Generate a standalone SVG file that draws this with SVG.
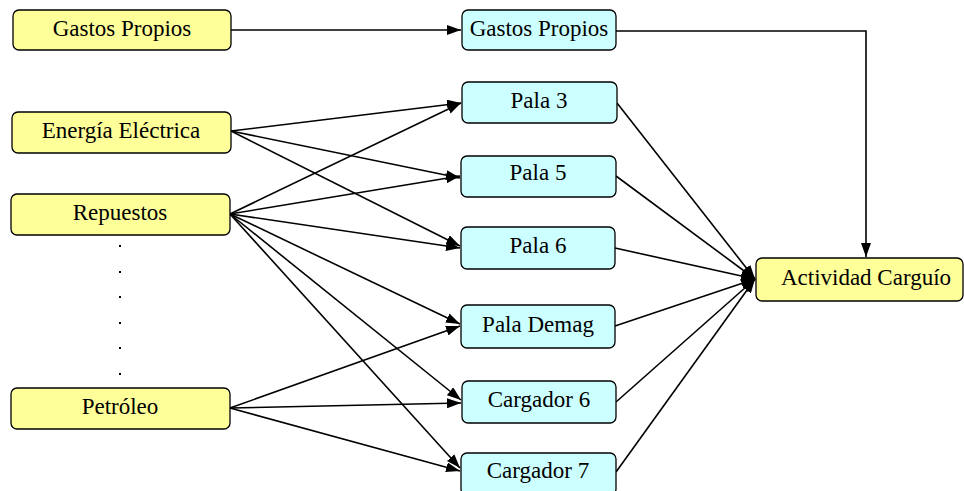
<svg xmlns="http://www.w3.org/2000/svg" width="964" height="491" viewBox="0 0 964 491">
<style>
.y{fill:#FFFF99;stroke:#000;stroke-width:1.3}
.c{fill:#CCFFFF;stroke:#000;stroke-width:1.3}
text{font-family:"Liberation Serif","Times New Roman",serif;font-size:23px;text-anchor:middle;fill:#000}
.e{fill:none;stroke:#000;stroke-width:1.6}
</style>
<defs>
<marker id="a" markerUnits="userSpaceOnUse" markerWidth="14" markerHeight="10" refX="14" refY="5" orient="auto">
<path d="M0,0 L14,5 L0,10 z" fill="#000"/>
</marker>
</defs>
<rect width="964" height="491" fill="#fff"/>
<g id="edges">
<path class="e" d="M231,30 L461,30" marker-end="url(#a)"/>
<path class="e" d="M616,31 L866,31 L866,257" marker-end="url(#a)"/>
<path class="e" d="M231,131 L461,103" marker-end="url(#a)"/>
<path class="e" d="M231,131 L460,178" marker-end="url(#a)"/>
<path class="e" d="M231,131 L460,246" marker-end="url(#a)"/>
<path class="e" d="M230,214 L461,103" marker-end="url(#a)"/>
<path class="e" d="M230,214 L460,176" marker-end="url(#a)"/>
<path class="e" d="M230,214 L460,248" marker-end="url(#a)"/>
<path class="e" d="M230,214 L460,324" marker-end="url(#a)"/>
<path class="e" d="M230,214 L461,400" marker-end="url(#a)"/>
<path class="e" d="M230,214 L460,468" marker-end="url(#a)"/>
<path class="e" d="M230,408 L460,326" marker-end="url(#a)"/>
<path class="e" d="M230,408 L461,403" marker-end="url(#a)"/>
<path class="e" d="M230,408 L460,471" marker-end="url(#a)"/>
<path class="e" d="M617,103 L755,279" marker-end="url(#a)"/>
<path class="e" d="M616,176 L755,279" marker-end="url(#a)"/>
<path class="e" d="M615,248 L755,279" marker-end="url(#a)"/>
<path class="e" d="M615,326 L755,279" marker-end="url(#a)"/>
<path class="e" d="M616,402 L755,279" marker-end="url(#a)"/>
<path class="e" d="M616,472 L755,279" marker-end="url(#a)"/>
</g>
<g id="n-gastos-src"><rect class="y" x="13" y="10" width="218" height="40" rx="6"/><text x="122" y="36">Gastos Propios</text></g>
<g id="n-energia"><rect class="y" x="12" y="112" width="219" height="41" rx="6"/><text x="121" y="138">Energía Eléctrica</text></g>
<g id="n-repuestos"><rect class="y" x="11" y="194" width="219" height="41" rx="6"/><text x="120" y="220">Repuestos</text></g>
<g id="dots" fill="#000"><rect x="119" y="245" width="2" height="2"/><rect x="119" y="271" width="2" height="2"/><rect x="119" y="296" width="2" height="2"/><rect x="119" y="322" width="2" height="2"/><rect x="119" y="347" width="2" height="2"/><rect x="119" y="373" width="2" height="2"/></g>
<g id="n-petroleo"><rect class="y" x="11" y="388" width="219" height="41" rx="6"/><text x="120" y="414">Petróleo</text></g>
<g id="n-gastos"><rect class="c" x="462" y="10" width="154" height="40" rx="6"/><text x="539" y="36">Gastos Propios</text></g>
<g id="n-pala3"><rect class="c" x="462" y="82" width="155" height="41" rx="6"/><text x="539" y="108">Pala 3</text></g>
<g id="n-pala5"><rect class="c" x="461" y="156" width="155" height="41" rx="6"/><text x="538" y="180">Pala 5</text></g>
<g id="n-pala6"><rect class="c" x="461" y="227" width="154" height="42" rx="6"/><text x="538" y="253">Pala 6</text></g>
<g id="n-demag"><rect class="c" x="461" y="305" width="154" height="43" rx="6"/><text x="538" y="332">Pala Demag</text></g>
<g id="n-carg6"><rect class="c" x="462" y="381" width="154" height="42" rx="6"/><text x="539" y="407">Cargador 6</text></g>
<g id="n-carg7"><rect class="c" x="461" y="453" width="155" height="42" rx="6"/><text x="538" y="478">Cargador 7</text></g>
<g id="n-actividad"><rect class="y" x="756" y="258" width="207" height="43" rx="6"/><text x="866" y="285">Actividad Carguío</text></g>
</svg>
